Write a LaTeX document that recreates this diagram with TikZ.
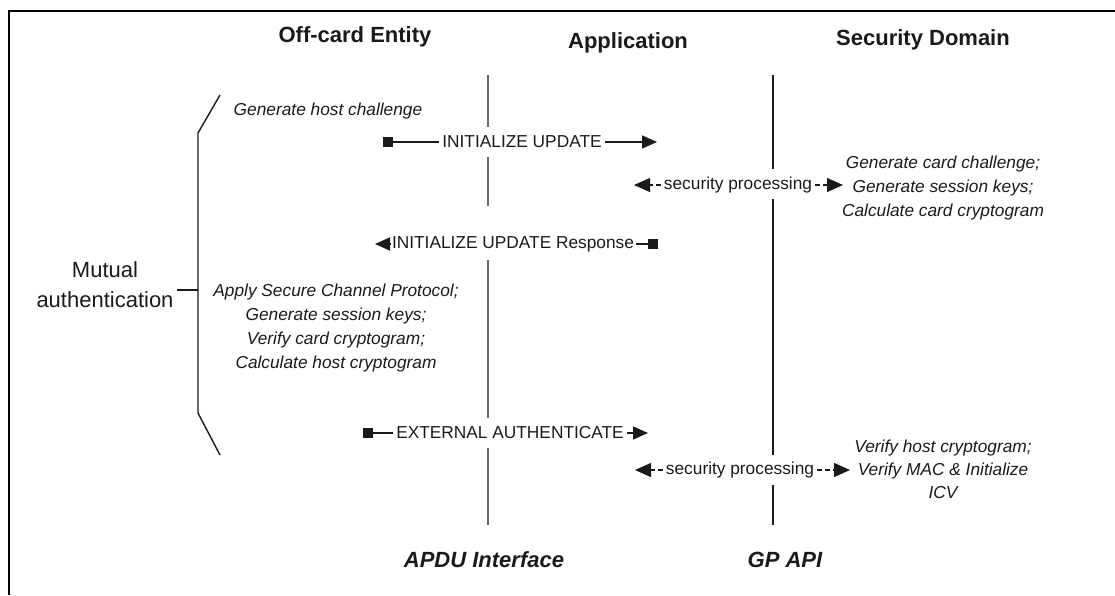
\documentclass[tikz,border=0pt]{standalone}
\usepackage{fontspec}
\setmainfont{Liberation Sans}
\usepackage{xcolor}
\definecolor{lifegray}{HTML}{6b6b6b}
\definecolor{ink}{HTML}{1a1a1a}
\usetikzlibrary{
  arrows.meta,
  positioning
}

\begin{document}
\begin{tikzpicture}[x=1pt, y=-1pt,
  header/.style={font=\fontsize{22}{26}\selectfont\bfseries, text=ink},
  iface/.style={font=\fontsize{22}{26}\selectfont\bfseries\itshape, text=ink},
  msg/.style={font=\fontsize{17.3}{20}\selectfont, inner sep=3pt, text=ink},
  note/.style={font=\fontsize{17.3}{24}\selectfont\itshape, align=center, text=ink},
  sqarr/.style={line width=1.5pt, ink, {Square[length=10pt,width=10pt]}-},
  arr/.style={line width=1.5pt, ink, -{Triangle[length=15pt,width=13pt]}},
  proc/.style={line width=1.3pt, ink, dash pattern=on 5pt off 3pt, -{Triangle[length=16pt,width=14pt]}},
  life/.style={line width=1.5pt},
]
\useasboundingbox (0,0) rectangle (1115,595);

% frame
\draw[line width=2.5pt] (9,595) -- (9,11) -- (1115,11);

% headers
\node[header] (offcard) at (355,37) {Off-card Entity};
\node[header] (app) at (628,43) {Application};
\node[header] (secdom) at (923,40) {Security Domain};
\node[iface] (apdu) at (484,560) {APDU Interface};
\node[iface] (gpapi) at (785,560) {GP API};

% lifelines
\draw[life, lifegray] (488,75) -- (488,127) (488,157) -- (488,206)
  (488,260) -- (488,418) (488,448) -- (488,525);
\draw[life, ink] (773,75) -- (773,169) (773,199) -- (773,455)
  (773,485) -- (773,525);

% brace
\node[font=\fontsize{22}{30}\selectfont, align=center, text=ink] (mutual) at (105,285) {Mutual\\authentication};
\coordinate (br-top) at (220,95);
\coordinate (br-a) at (198,133);
\coordinate (br-mid) at (198,290);
\coordinate (br-b) at (198,413);
\coordinate (br-bot) at (220,455);
\draw[line width=1.4pt, ink] (br-top) -- (br-a) -- (br-b) -- (br-bot);
\draw[line width=1.4pt, ink] (mutual.east |- br-mid) -- (br-mid);

% notes
\node[note] (hostchal) at (328,111) {Generate host challenge};
\node[note] (cardside) at (943,188) {Generate card challenge;\\Generate session keys;\\Calculate card cryptogram};
\node[note] (hostside) at (336,328) {Apply Secure Channel Protocol;\\Generate session keys;\\Verify card cryptogram;\\Calculate host cryptogram};
\node[note, font=\fontsize{17.3}{23}\selectfont\itshape] (verify) at (943,469) {Verify host cryptogram;\\Verify MAC \& Initialize\\ICV};

% INITIALIZE UPDATE
\coordinate (iu-s) at (383,142);
\coordinate (iu-e) at (657,142);
\node[msg] (iu) at (522,142) {INITIALIZE UPDATE};
\draw[sqarr] (iu-s) -- (iu.west);
\draw[arr] (iu.east) -- (iu-e);

% security processing 1
\coordinate (sp1-l) at (634,185);
\coordinate (sp1-r) at (843,185);
\node[msg] (sp1) at (738,185) {security processing};
\draw[proc] (sp1.west) -- (sp1-l);
\draw[proc] (sp1.east) -- (sp1-r);

% INITIALIZE UPDATE Response
\coordinate (iur-s) at (658,244);
\coordinate (iur-e) at (375,244);
\node[msg, inner sep=1.5pt] (iur) at (513,244) {INITIALIZE UPDATE Response};
\draw[sqarr] (iur-s) -- (iur.east);
\draw[arr] (iur.west) -- (iur-e);

% EXTERNAL AUTHENTICATE
\coordinate (ea-s) at (363,433);
\coordinate (ea-e) at (648,433);
\node[msg] (ea) at (510,433) {EXTERNAL AUTHENTICATE};
\draw[sqarr] (ea-s) -- (ea.west);
\draw[arr] (ea.east) -- (ea-e);

% security processing 2
\coordinate (sp2-l) at (635,470);
\coordinate (sp2-r) at (850,470);
\node[msg] (sp2) at (740,470) {security processing};
\draw[proc] (sp2.west) -- (sp2-l);
\draw[proc] (sp2.east) -- (sp2-r);

\end{tikzpicture}
\end{document}
